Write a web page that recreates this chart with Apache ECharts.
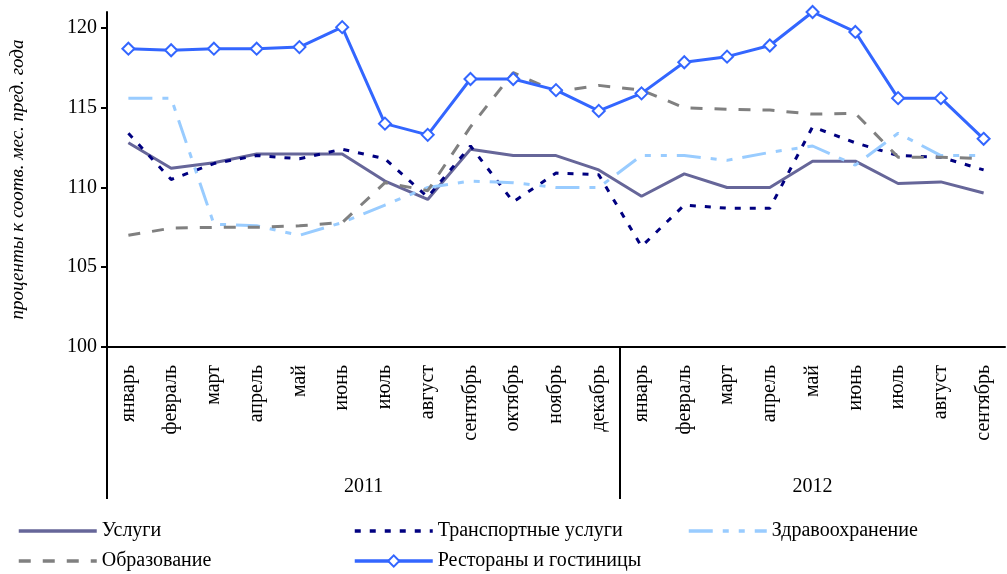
<!DOCTYPE html>
<html>
<head>
<meta charset="utf-8">
<script src="https://cdn.jsdelivr.net/npm/echarts@6/dist/echarts.min.js"></script>
<style>
  html, body { margin: 0; padding: 0; background: #fff; }
  #chart { width: 1007px; height: 574px; }
</style>
</head>
<body>
<div id="chart"></div>
<script>
// months, jan 2011 .. sep 2012
const months = ['январь','февраль','март','апрель','май','июнь','июль','август','сентябрь','октябрь','ноябрь','декабрь',
  'январь','февраль','март','апрель','май','июнь','июль','август','сентябрь'];
const years = ['2011', '2012'];
const yearSpans = [12, 9];
const yTicks = [100, 105, 110, 115, 120];

const services = [112.8,111.2,111.55,112.1,112.1,112.1,110.4,109.25,112.4,112.0,112.0,111.1,109.45,110.85,110.0,110.0,111.65,111.65,110.25,110.35,109.65];
const transport = [113.4,110.5,111.5,112.0,111.8,112.4,111.8,109.4,112.6,109.1,110.9,110.8,106.3,108.9,108.7,108.7,113.8,112.8,112.0,111.9,111.1];
const health = [115.6,115.6,107.7,107.6,107.0,107.8,108.9,110.0,110.4,110.3,110.0,110.0,112.0,112.0,111.7,112.2,112.6,111.4,113.4,112.0,112.0];
const education = [107.0,107.45,107.5,107.5,107.6,107.8,110.3,109.8,113.8,117.2,116.0,116.4,116.1,115.0,114.9,114.85,114.6,114.65,111.9,111.9,111.8];
const restaurants = [118.7,118.6,118.7,118.7,118.8,120.05,114.0,113.3,116.8,116.8,116.1,114.8,115.9,117.85,118.2,118.9,121.0,119.75,115.6,115.6,113.05];

// year divider positions and year label centres
const yearBounds = [0];
yearSpans.forEach((s, i) => yearBounds.push(yearBounds[i] + s));
const yearCenters = yearSpans.map((s, i) => yearBounds[i] + s / 2);

const font = 'Liberation Serif';
const chart = echarts.init(document.getElementById('chart'));

function lineSeries(name, data, color, type) {
  return {
    name, data, type: 'line', symbol: 'none',
    lineStyle: { color, width: 3, type },
    itemStyle: { color },
    animation: false
  };
}

// line-only series get no symbol in the legend
const noMarker = ['Услуги', 'Образование', 'Транспортные услуги', 'Здравоохранение'];
function legend(names, left) {
  return {
    data: names.map(n => noMarker.includes(n) ? { name: n, itemStyle: { opacity: 0 } } : n),
    orient: 'vertical', left, top: 521, padding: 0,
    itemWidth: 78, itemHeight: 14, itemGap: 10,
    lineStyle: { width: 3.5 },
    textStyle: { fontFamily: font, fontSize: 20, color: '#000' },
    selectedMode: false
  };
}

chart.setOption({
  backgroundColor: '#fff',
  grid: { left: 103, right: 2, top: 12, bottom: 227 },
  legend: [
    legend(['Услуги', 'Образование'], 17),
    legend(['Транспортные услуги', 'Рестораны и гостиницы'], 353),
    legend(['Здравоохранение'], 687)
  ],
  xAxis: [{
    type: 'category',
    data: months,
    boundaryGap: true,
    axisLine: { lineStyle: { color: '#000', width: 2 } },
    axisTick: { length: 104, interval: 0, lineStyle: { color: '#000', width: 2 } },
    axisLabel: { rotate: 90, interval: 0, margin: 18, fontFamily: font, fontSize: 20, color: '#000' }
  }, {
    type: 'value',
    min: 0, max: months.length,
    position: 'bottom',
    axisLine: { show: false },
    splitLine: { show: false },
    axisTick: { customValues: yearBounds.slice(0, -1), length: 152, lineStyle: { color: '#000', width: 2 } },
    axisLabel: {
      customValues: yearCenters, margin: 130, fontFamily: font, fontSize: 20, color: '#000',
      formatter: v => years[yearCenters.indexOf(v)]
    }
  }],
  yAxis: {
    type: 'value',
    min: 100, max: 121, interval: 5,
    name: 'проценты к соотв. мес. пред. года',
    nameLocation: 'middle', nameRotate: 90, nameGap: 80,
    nameTextStyle: { fontFamily: font, fontSize: 19, fontStyle: 'italic', color: '#000' },
    axisLine: { show: true, lineStyle: { color: '#000', width: 2 } },
    axisTick: { show: true, customValues: yTicks, length: 6, lineStyle: { color: '#000', width: 2 } },
    axisLabel: { customValues: yTicks, margin: 10, fontFamily: font, fontSize: 20, color: '#000' },
    splitLine: { show: false }
  },
  series: [
    lineSeries('Услуги', services, '#666699', 'solid'),
    lineSeries('Транспортные услуги', transport, '#000080', [6, 9]),
    lineSeries('Здравоохранение', health, '#99CCFF', [24, 10, 6, 10, 6, 10]),
    lineSeries('Образование', education, '#808080', [12, 12]),
    {
      name: 'Рестораны и гостиницы', data: restaurants, type: 'line',
      symbol: 'diamond', symbolSize: 12,
      lineStyle: { color: '#3366FF', width: 3 },
      itemStyle: { color: '#fff', borderColor: '#3366FF', borderWidth: 2 },
      animation: false
    }
  ]
});
</script>
</body>
</html>
